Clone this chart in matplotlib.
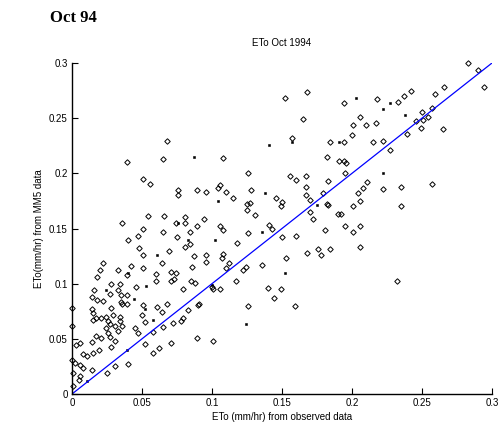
import numpy as np
import matplotlib.pyplot as plt

# open diamond points (observed, MM5)
obs_open = [0.283, 0.290, 0.294, 0.266, 0.259, 0.242, 0.237, 0.233, 0.218, 0.194, 0.250, 0.257, 0.254, 0.251,
            0.246, 0.249, 0.265, 0.206, 0.201, 0.210, 0.217, 0.200, 0.215, 0.222, 0.239, 0.227, 0.194, 0.194,
            0.196, 0.195, 0.211, 0.208, 0.204, 0.222, 0.235, 0.257, 0.206, 0.201, 0.235, 0.195, 0.201, 0.206,
            0.206, 0.232, 0.192,
            0.168, 0.152, 0.165, 0.157, 0.184, 0.182, 0.191, 0.108, 0.126, 0.156, 0.160, 0.167, 0.167, 0.183,
            0.096, 0.104, 0.106, 0.110, 0.115, 0.128, 0.127, 0.125, 0.146, 0.150, 0.149, 0.167, 0.170, 0.179,
            0.182,
            0.125, 0.131, 0.170, 0.172, 0.183, 0.190, 0.094, 0.106, 0.108, 0.126, 0.141, 0.143, 0.150, 0.160,
            0.181, 0.118, 0.096, 0.096, 0.108, 0.107, 0.112, 0.110, 0.124, 0.122, 0.136, 0.153, 0.168, 0.176,
            0.178, 0.184, 0.117, 0.100, 0.101, 0.106, 0.140, 0.149, 0.144, 0.091, 0.126, 0.159, 0.101,
            0.068, 0.039, 0.065, 0.051, 0.056, 0.076, 0.076, 0.089, 0.054, 0.066, 0.036, 0.074, 0.081, 0.081,
            0.051, 0.065, 0.084, 0.089, 0.040, 0.047, 0.075, 0.048, 0.051, 0.069, 0.081, 0.084, 0.087,
            0.022, 0.042, 0.020, 0.033, 0.039, 0.018, 0.028, 0.034, 0.046, 0.016, 0.033, 0.027, 0.035, 0.039,
            0.014, 0.018, 0.022, 0.035, 0.036, 0.039, 0.014, 0.015, 0.028, 0.029, 0.017, 0.021, 0.024, 0.034,
            0.050,
            0.051, 0.064, 0.086, 0.060, 0.071, 0.074, 0.060, 0.071, 0.073, 0.079, 0.085, 0.088, 0.051, 0.061,
            0.064, 0.083, 0.079, 0.090, 0.068,
            0.006, 0.014, 0.017, 0.024, 0.026, 0.027, 0.026, 0.021, 0.019, 0.015, 0.011, 0.008, 0.002, 0.006,
            0.008, 0.006, 0.005, 0.014, 0.001, 0.001, 0.028, 0.031, 0.025, 0.027, 0.033, 0.031, 0.034, 0.047,
            0.045, 0.036, 0.015, 0.003, 0.000, 0.000, 0.000, 0.031, 0.040,
            0.052, 0.058, 0.065, 0.072, 0.078, 0.052, 0.058, 0.062, 0.071, 0.089]
mm5_open = [0.300, 0.294, 0.278, 0.278, 0.272, 0.275, 0.270, 0.265, 0.267, 0.264, 0.256, 0.259, 0.251, 0.248,
            0.247, 0.241, 0.240, 0.251, 0.244, 0.244, 0.246, 0.235, 0.228, 0.229, 0.236, 0.221, 0.228, 0.211,
            0.209, 0.200, 0.192, 0.187, 0.182, 0.186, 0.188, 0.190, 0.175, 0.170, 0.170, 0.152, 0.147, 0.152,
            0.133, 0.102, 0.163,
            0.274, 0.268, 0.249, 0.232, 0.228, 0.215, 0.211, 0.214, 0.200, 0.198, 0.194, 0.198, 0.188, 0.193,
            0.183, 0.187, 0.189, 0.183, 0.178, 0.185, 0.173, 0.172, 0.178, 0.174, 0.170, 0.180, 0.176, 0.182,
            0.172,
            0.167, 0.162, 0.165, 0.159, 0.171, 0.163, 0.159, 0.152, 0.149, 0.146, 0.153, 0.150, 0.142, 0.143,
            0.149, 0.137, 0.126, 0.120, 0.127, 0.123, 0.119, 0.114, 0.115, 0.112, 0.117, 0.123, 0.128, 0.131,
            0.126, 0.131, 0.102, 0.097, 0.095, 0.095, 0.096, 0.095, 0.087, 0.082, 0.080, 0.080, 0.048,
            0.229, 0.210, 0.213, 0.195, 0.190, 0.185, 0.180, 0.185, 0.161, 0.161, 0.155, 0.155, 0.160, 0.155,
            0.150, 0.147, 0.147, 0.152, 0.140, 0.143, 0.142, 0.132, 0.126, 0.130, 0.133, 0.136, 0.125,
            0.119, 0.116, 0.112, 0.112, 0.108, 0.106, 0.100, 0.100, 0.097, 0.094, 0.094, 0.091, 0.090, 0.090,
            0.088, 0.085, 0.084, 0.083, 0.082, 0.082, 0.077, 0.073, 0.078, 0.072, 0.069, 0.069, 0.070, 0.070,
            0.072,
            0.114, 0.119, 0.115, 0.109, 0.111, 0.110, 0.102, 0.102, 0.104, 0.095, 0.102, 0.101, 0.081, 0.079,
            0.074, 0.076, 0.069, 0.081, 0.082,
            0.046, 0.047, 0.053, 0.060, 0.055, 0.063, 0.066, 0.051, 0.040, 0.037, 0.034, 0.036, 0.028, 0.026,
            0.024, 0.016, 0.013, 0.022, 0.007, 0.019, 0.043, 0.048, 0.019, 0.052, 0.057, 0.062, 0.066, 0.055,
            0.060, 0.062, 0.067, 0.044, 0.078, 0.062, 0.031, 0.025, 0.027,
            0.065, 0.056, 0.061, 0.064, 0.066, 0.045, 0.037, 0.042, 0.046, 0.051]

# filled points
obs_fill = [0.227, 0.203, 0.222, 0.238, 0.222, 0.157, 0.141, 0.191, 0.104, 0.138, 0.175, 0.136, 0.102, 0.152,
            0.124, 0.087, 0.076, 0.083, 0.061, 0.040, 0.053, 0.024, 0.044, 0.052, 0.100, 0.058, 0.011, 0.039]
mm5_fill = [0.264, 0.268, 0.258, 0.253, 0.200, 0.228, 0.226, 0.228, 0.175, 0.182, 0.171, 0.147, 0.140, 0.110,
            0.063, 0.215, 0.155, 0.140, 0.126, 0.110, 0.098, 0.094, 0.086, 0.077, 0.099, 0.067, 0.012, 0.040]

ticks = [0, 0.05, 0.1, 0.15, 0.2, 0.25, 0.3]
tick_labels = ['0', '0.05', '0.1', '0.15', '0.2', '0.25', '0.3']

plt.rcParams['font.family'] = ['Liberation Sans', 'DejaVu Sans']

fig = plt.figure(figsize=(4.98, 4.28), dpi=100)
ax = fig.add_axes([72 / 498, 34 / 428, 420 / 498, 331 / 428])

ax.plot(obs_open, mm5_open, linestyle='none', marker='D', ms=2.8, mfc='none', mec='black', mew=0.7,
        clip_on=False)
ax.plot(obs_fill, mm5_fill, linestyle='none', marker='s', ms=2.0, mfc='black', mec='black', mew=0.4,
        clip_on=False)
ax.plot([0, 0.3], [0, 0.3], color='blue', lw=0.9)

ax.set_xlim(0, 0.3)
ax.set_ylim(0, 0.3)
ax.set_xticks(ticks)
ax.set_xticklabels(tick_labels)
ax.set_yticks(ticks)
ax.set_yticklabels(tick_labels)
ax.tick_params(direction='in', length=4, width=0.8, labelsize=7, pad=3)
ax.spines['top'].set_visible(False)
ax.spines['right'].set_visible(False)
ax.spines['left'].set_linewidth(1.0)
ax.spines['bottom'].set_linewidth(1.0)

ax.set_title('ETo Oct 1994', fontsize=7, pad=12)
ax.set_xlabel('ETo (mm/hr) from observed data', fontsize=7, labelpad=3)
ax.set_ylabel('ETo(mm/hr) from MM5 data', fontsize=7, labelpad=4)

fig.text(50 / 498, 1 - 18 / 428, 'Oct 94', fontsize=12, fontweight='bold',
         family='Liberation Serif', va='center', ha='left')

fig.savefig('out.png', dpi=100)
